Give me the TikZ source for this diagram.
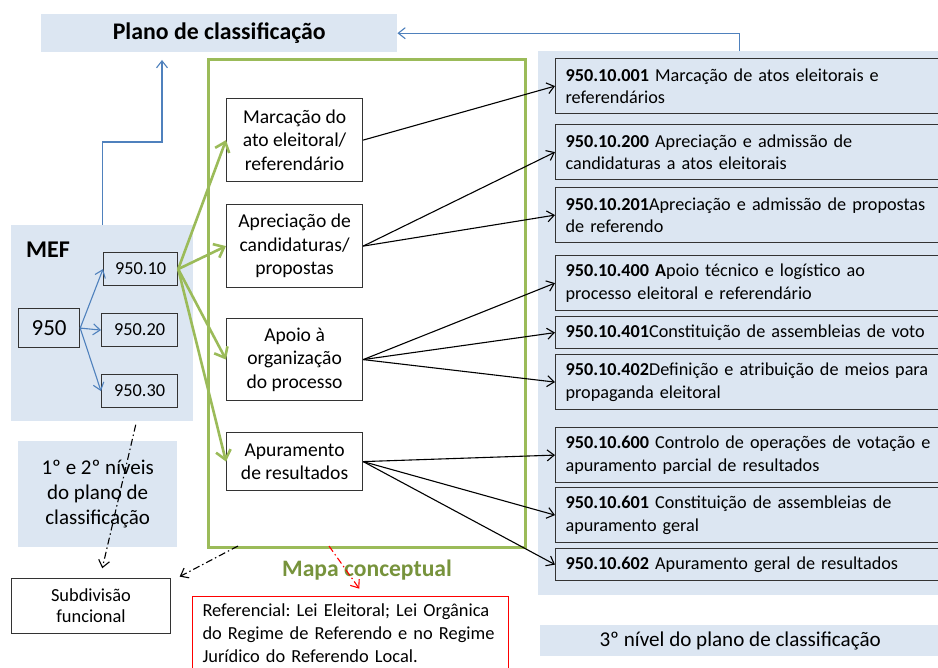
\documentclass[tikz,border=0pt]{standalone}
\usepackage{fontspec}
\setmainfont{Carlito}
\usetikzlibrary{arrows.meta, positioning, calc}

\definecolor{panelblue}{RGB}{220,230,242}
\definecolor{mapgreen}{RGB}{155,187,89}
\definecolor{mapgreentext}{RGB}{119,147,60}
\definecolor{arrowblue}{RGB}{79,129,189}
\frenchspacing

\begin{document}
\begin{tikzpicture}[
    x=1pt, y=-1pt,
    panel/.style={fill=panelblue, inner sep=0pt, anchor=north west, align=center},
    box/.style={draw=black!80, line width=1.2pt, inner sep=0pt, anchor=north west, minimum width=136pt, align=center, font=\fontsize{19.6}{23.5}\selectfont},
    numbox/.style={draw=black!80, line width=1.2pt, fill=panelblue, inner sep=0pt, anchor=north west, minimum height=33pt, font=\fontsize{18.3}{22}\selectfont},
    codebox/.style={draw=black!80, line width=1.2pt, fill=panelblue, anchor=north west, text width=380pt, inner xsep=10pt, inner ysep=0pt, align=left, font=\fontsize{18.2}{22.5}\selectfont},
    arrow/.style={-{Straight Barb[length=7pt, width=11pt]}, line width=1.1pt},
    bluearrow/.style={arrow, draw=arrowblue},
    greenarrow/.style={-{Straight Barb[length=9pt, width=15pt]}, line width=2.6pt, draw=mapgreen},
    dasharrow/.style={arrow, dash pattern=on 7pt off 3pt on 1.5pt off 3pt}
]
\useasboundingbox (0,0) rectangle (938,668);
\clip (0,0) rectangle (938,668);

% Background panels
\node[panel, minimum width=356pt, minimum height=38pt, font=\fontsize{23.8}{28}\selectfont\bfseries] (plano) at (41,14) {Plano de classificação};
\node[panel, minimum width=182pt, minimum height=196pt] (mef) at (11,225) {};
\node[panel, minimum width=159pt, minimum height=106pt, font=\fontsize{21}{25}\selectfont] (niveis) at (18,441) {1º e 2º níveis\\do plano de\\classificação};
\node[panel, minimum width=402pt, minimum height=544pt] (panel) at (538,51) {};
\node[panel, minimum width=400pt, minimum height=31pt, font=\fontsize{21.1}{25}\selectfont] (nivel3) at (540,625) {3º nível do plano de classificação};

% MEF: 1st and 2nd levels
\node[font=\fontsize{24}{28}\selectfont\bfseries] (meflabel) at (48,250) {MEF};
\node[numbox, minimum width=61pt, minimum height=39pt, font=\fontsize{23}{27}\selectfont] (n950) at (18,308) {950};
\node[numbox, minimum width=74pt] (n95010) at (103,252) {950.10};
\node[numbox, minimum width=76pt] (n95020) at (101,313) {950.20};
\node[numbox, minimum width=76pt] (n95030) at (101,374) {950.30};

\draw[bluearrow] (n950.east) -- (n95010.west);
\draw[bluearrow] (n950.east) -- (n95020.west);
\draw[bluearrow] (n950.east) -- (n95030.west);

% Mapa conceptual
\node[draw=mapgreen, line width=3pt, inner sep=0pt, anchor=north west, minimum width=317pt, minimum height=488pt] (frame) at (207,58) {};
\node[text=mapgreentext, font=\fontsize{23.6}{28}\selectfont\bfseries] (mapa) at (367,570) {Mapa conceptual};

\node[box, minimum height=83pt] (marcacao) at (226,98) {Marcação do\\ato eleitoral/\\referendário};
\node[box, minimum height=83pt] (apreciacao) at (226,204) {Apreciação de\\candidaturas/\\propostas};
\node[box, minimum height=82pt] (apoio) at (226,318) {Apoio à\\organização\\do processo};
\node[box, minimum height=58pt] (apuramento) at (226,432) {Apuramento\\de resultados};

\draw[greenarrow] (n95010.east) -- (marcacao.west);
\draw[greenarrow] (n95010.east) -- (apreciacao.west);
\draw[greenarrow] (n95010.east) -- (apoio.west);
\draw[greenarrow] (n95010.east) -- (apuramento.west);

% 3rd level
\node[codebox, minimum height=55pt] (c001) at (555,58) {\textbf{950.10.001} Marcação de atos eleitorais e\\referendários};
\node[codebox, minimum height=55pt] (c200) at (555,124) {\textbf{950.10.200} Apreciação e admissão de\\candidaturas a atos eleitorais};
\node[codebox, minimum height=55pt] (c201) at (555,187) {\textbf{950.10.201}Apreciação e admissão de propostas\\de referendo};
\node[codebox, minimum height=55pt] (c400) at (555,255) {\textbf{950.10.400 A}poio técnico e logístico ao\\processo eleitoral e referendário};
\node[codebox, minimum height=32pt] (c401) at (555,316) {\textbf{950.10.401}Constituição de assembleias de voto};
\node[codebox, minimum height=55pt] (c402) at (555,354) {\textbf{950.10.402}Definição e atribuição de meios para\\propaganda eleitoral};
\node[codebox, minimum height=55pt] (c600) at (555,427) {\textbf{950.10.600} Controlo de operações de votação e\\apuramento parcial de resultados};
\node[codebox, minimum height=55pt] (c601) at (555,487) {\textbf{950.10.601} Constituição de assembleias de\\apuramento geral};
\node[codebox, minimum height=32pt] (c602) at (555,548) {\textbf{950.10.602} Apuramento geral de resultados};

\draw[arrow] (marcacao.east) -- (c001.west);
\draw[arrow] (apreciacao.east) -- (c200.west);
\draw[arrow] (apreciacao.east) -- (c201.west);
\draw[arrow] (apoio.east) -- (c400.west);
\draw[arrow] (apoio.east) -- (c401.west);
\draw[arrow] (apoio.east) -- (c402.west);
\draw[arrow] (apuramento.east) -- (c600.west);
\draw[arrow] (apuramento.east) -- (c601.west);
\draw[arrow] (apuramento.east) -- (c602.west);

% Links to the Plano de classificacao
\coordinate (planoin) at (162,60);
\draw[bluearrow] (mef.north) -- ++(0,-83) -| (planoin);
\draw[bluearrow] (panel.north) |- (plano.east);

% Subdivision and references
\node[draw=black!80, line width=1pt, anchor=north west, minimum width=159pt, minimum height=55pt, inner sep=0pt, align=center, font=\fontsize{18.4}{21}\selectfont] (subdiv) at (11,578) {Subdivisão\\funcional};
\node[draw=red, line width=1pt, anchor=north west, text width=296pt, inner xsep=10pt, inner ysep=7pt, align=left, font=\fontsize{18.4}{23}\selectfont] (refbox) at (192,596) {Referencial: Lei Eleitoral; Lei Orgânica\\do Regime de Referendo e no Regime\\Jurídico do Referendo Local.};

\draw[dasharrow, shorten <=17pt, shorten >=10pt] (n95030.south) -- ($(subdiv.north)+(9,0)$);
\draw[dasharrow, shorten >=3pt] ($(frame.south west)+(31,-3)$) -- ($(subdiv.north east)+(6,0)$);
\draw[dasharrow, draw=red, shorten >=9pt] ($(frame.south west)+(122,-3)$) -- ($(refbox.north)+(14,0)$);

\end{tikzpicture}
\end{document}
